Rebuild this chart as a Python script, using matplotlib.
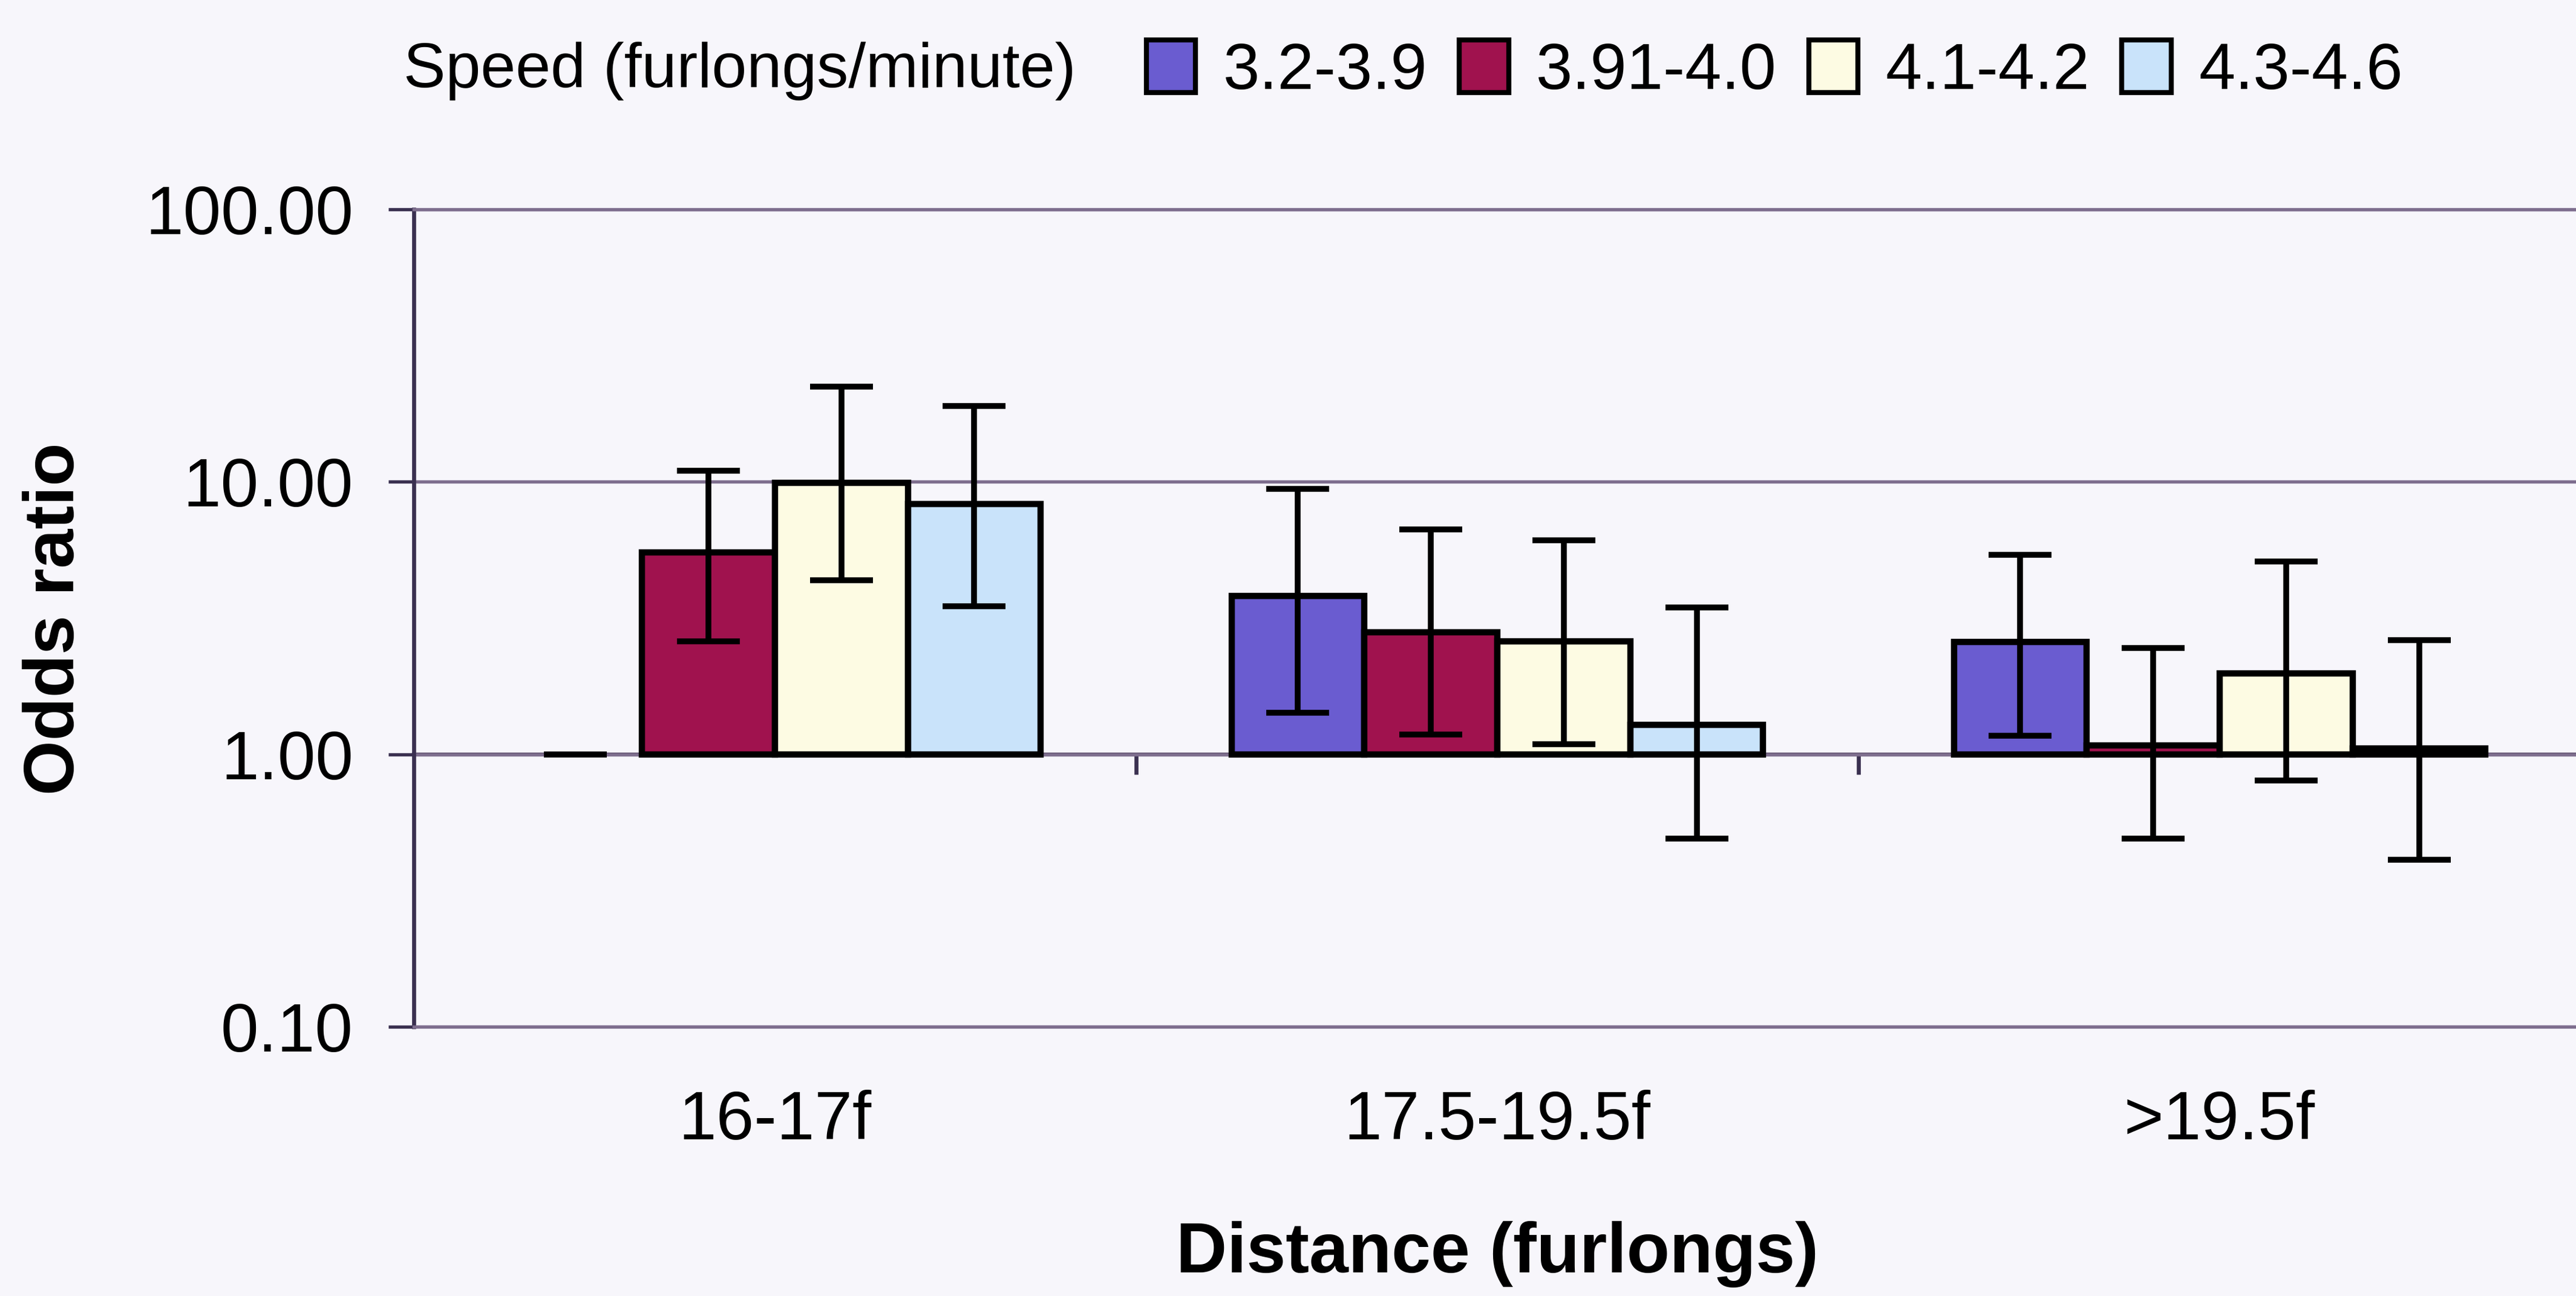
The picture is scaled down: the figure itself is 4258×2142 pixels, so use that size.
import numpy as np
import matplotlib
matplotlib.use('Agg')
import matplotlib.pyplot as plt
from matplotlib.patches import Patch
from matplotlib.ticker import FixedLocator, FormatStrFormatter, NullLocator

plt.rcParams['font.family'] = ['Liberation Sans', 'DejaVu Sans']

# distance groups (x axis) and speed bands (series)
categories = ['16-17f', '17.5-19.5f', '>19.5f']
speeds = ['3.2-3.9', '3.91-4.0', '4.1-4.2', '4.3-4.6']

# odds ratios with lower / upper confidence limits
or_a = [1.0, 3.8, 2.58]
lo_a = [1.0, 1.42, 1.17]
hi_a = [1.0, 9.4, 5.4]

or_b = [5.5, 2.8, 1.08]
lo_b = [2.6, 1.18, 0.49]
hi_b = [11.0, 6.7, 2.45]

or_c = [9.9, 2.6, 1.98]
lo_c = [4.35, 1.09, 0.80]
hi_c = [22.3, 6.1, 5.1]

or_d = [8.3, 1.28, 1.05]
lo_d = [3.5, 0.49, 0.41]
hi_d = [19.0, 3.45, 2.62]

y_ticks = [0.1, 1, 10, 100]

colors = ['#6A5CD0', '#A0124E', '#FDFBE3', '#C9E3FA']
bg = '#F7F6FB'
gridc = '#7E6E8E'

series = [(or_a, lo_a, hi_a), (or_b, lo_b, hi_b), (or_c, lo_c, hi_c), (or_d, lo_d, hi_d)]

fig = plt.figure(figsize=(4258 / 300, 2142 / 300), dpi=300, facecolor=bg)
ax = fig.add_axes([0.1606, 0.2078, 0.8413, 0.6307])
ax.set_facecolor(bg)

x = np.arange(len(categories))
w = 0.184
for i, (vals, lo, hi) in enumerate(series):
    vals = np.array(vals)
    lo = np.array(lo)
    hi = np.array(hi)
    pos = x + (i - 1.5) * w
    lw = [0 if v == 1 else 2.5 for v in vals]
    ax.bar(pos, vals - 1, bottom=1, width=w, color=colors[i],
           edgecolor='black', linewidth=lw, zorder=2)
    ax.errorbar(pos, vals, yerr=[vals - lo, hi - vals], fmt='none',
                ecolor='black', elinewidth=2.3, capsize=12.5, capthick=2.3, zorder=3)

ax.set_yscale('log')
ax.set_ylim(0.1, 100)
ax.set_xlim(-0.5, 2.5)
ax.yaxis.set_major_locator(FixedLocator(y_ticks))
ax.yaxis.set_major_formatter(FormatStrFormatter('%.2f'))
ax.yaxis.set_minor_locator(NullLocator())
ax.set_axisbelow(True)
ax.yaxis.grid(True, color=gridc, linewidth=1.3)

ax.set_xticks(x)
ax.set_xticklabels(categories)
ax.tick_params(axis='x', length=0, pad=25, labelsize=27)
ax.tick_params(axis='y', direction='out', length=10, width=1.3, color='#3A3050',
               pad=14, labelsize=27)

for s in ['top', 'bottom']:
    ax.spines[s].set_color(gridc)
    ax.spines[s].set_linewidth(1.3)
ax.spines['right'].set_visible(False)
ax.spines['left'].set_color('#3A3050')
ax.spines['left'].set_linewidth(1.6)

# category axis crossing at 1.0 with tick marks between groups
sec = ax.secondary_xaxis(1 / 3)
sec.set_xticks(x[:-1] + 0.5)
sec.set_xticklabels([])
sec.tick_params(direction='out', length=8, width=1.6, color='#3A3050')
sec.spines['bottom'].set_color('#4A3E58')
sec.spines['bottom'].set_linewidth(1.5)

fig.text(0.0216, 0.5224, 'Odds ratio', rotation=90, ha='center', va='center',
         fontsize=28, fontweight='bold')
fig.text(0.5813, 0.032, 'Distance (furlongs)', ha='center', va='center',
         fontsize=28, fontweight='bold')

# legend
fig.text(0.1566, 0.945, 'Speed (furlongs/minute)', ha='left', va='center', fontsize=25)
handles = [Patch(facecolor=c, edgecolor='black', linewidth=2.0) for c in colors]
fig.legend(handles, speeds, loc='center left', bbox_to_anchor=(0.445, 0.945),
           ncol=4, frameon=False, fontsize=26, handlelength=0.75, handleheight=0.86,
           handletextpad=0.42, columnspacing=0.49, borderpad=0, borderaxespad=0)

fig.savefig('out.png', dpi=300, facecolor=bg)
